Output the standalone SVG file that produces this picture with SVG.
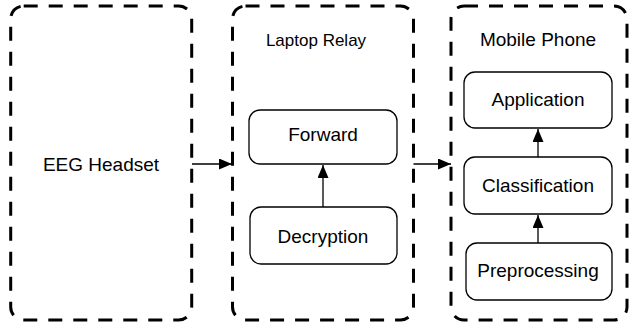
<svg xmlns="http://www.w3.org/2000/svg" width="630" height="324" viewBox="0 0 630 324">
<style>
.grp{fill:none;stroke:#000;stroke-width:3;stroke-dasharray:14 11}
.node{fill:#fff;stroke:#000;stroke-width:1.3}
.t{font-family:"Liberation Sans",Arial,sans-serif;font-size:19px;fill:#000;text-anchor:middle}
.c{fill:none;stroke:#000;stroke-width:1.3}
</style>
<defs>
<marker id="ah" markerUnits="userSpaceOnUse" markerWidth="14" markerHeight="11" refX="13" refY="5.5" orient="auto">
<path d="M0,0 L13,5.5 L0,11 Z" fill="#000"/>
</marker>
</defs>
<g id="eeg"><rect class="grp" x="10.7" y="6" width="181" height="314" rx="13"/><text class="t" x="101" y="171">EEG Headset</text></g>
<g id="laptop"><rect class="grp" x="232.5" y="6" width="181" height="314" rx="13"/><text class="t" x="316" y="46" style="font-size:17px">Laptop Relay</text></g>
<g id="phone"><rect class="grp" x="451" y="6" width="176" height="314" rx="13"/><text class="t" x="538" y="46">Mobile Phone</text></g>
<g id="forward"><rect class="node" x="249" y="110" width="148" height="54" rx="11"/><text class="t" x="323" y="141">Forward</text></g>
<g id="decryption"><rect class="node" x="250" y="207" width="147" height="57" rx="11"/><text class="t" x="323" y="243">Decryption</text></g>
<g id="application"><rect class="node" x="464" y="72" width="148" height="56" rx="11"/><text class="t" x="538" y="106">Application</text></g>
<g id="classification"><rect class="node" x="464" y="157" width="148" height="57" rx="11"/><text class="t" x="538" y="192">Classification</text></g>
<g id="preprocessing"><rect class="node" x="466" y="243" width="146" height="57" rx="11"/><text class="t" x="538" y="277">Preprocessing</text></g>
<g id="connectors">
<line class="c" x1="192" y1="164" x2="232" y2="164" marker-end="url(#ah)"/>
<line class="c" x1="413.5" y1="164" x2="451" y2="164" marker-end="url(#ah)"/>
<line class="c" x1="323" y1="207" x2="323" y2="165" marker-end="url(#ah)"/>
<line class="c" x1="538" y1="157" x2="538" y2="129" marker-end="url(#ah)"/>
<line class="c" x1="538" y1="243" x2="538" y2="215" marker-end="url(#ah)"/>
</g>
</svg>
